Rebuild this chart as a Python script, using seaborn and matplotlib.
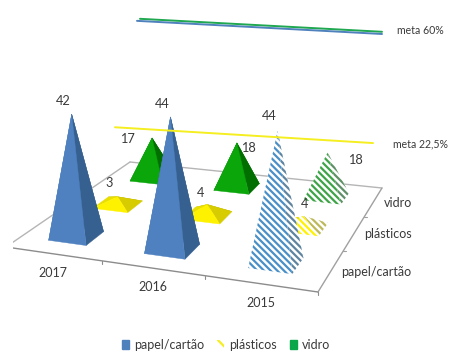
import numpy as np
import pandas as pd
import seaborn as sns
import matplotlib
matplotlib.use("Agg")
import matplotlib.pyplot as plt
from matplotlib.patches import Polygon, Patch

# Recycling rates by material and year, with the target lines
years = ["2017", "2016", "2015"]
materials = ["papel/cartão", "plásticos", "vidro"]
papel = [42, 44, 44]
plasticos = [3, 4, 4]
vidro = [17, 18, 18]
meta_vidro_papel = 60
meta_plasticos = 22.5

sns.set_theme(style="white", font="Lato")
plt.rcParams["hatch.linewidth"] = 1.6
TEXT = "#3a3a3a"
STRIPES = "\\" * 5

# Face colours: front, right, left, back
palette = {
    "papel/cartão": ["#4f81c0", "#35608f", "#3f6fa8", "#35608f"],
    "plásticos": ["#fff200", "#d6cc00", "#e8de00", "#b8ae00"],
    "vidro": ["#0aa60a", "#006f00", "#068a06", "#006f00"],
}
hatched = {
    "papel/cartão": ["#4a90c8", "#5f84a0", "#4a90c8", "#5f84a0"],
    "plásticos": ["#fff200", "#bdb95a", "#e8de00", "#bdb95a"],
    "vidro": ["#3fa448", "#5f9068", "#3fa448", "#5f9068"],
}

fig = plt.figure(figsize=(4.5, 3.53), dpi=100)
# The axes use a pixel-like system; the floor is cut at its left end
ax = fig.add_axes([13 / 450, 0, 1 - 13 / 450, 1])
ax.set_xlim(13, 450)
ax.set_ylim(353, 0)
ax.axis("off")

# Homography from floor coordinates (year slot, material slot) to the view
src = [(0, 0), (3, 0), (3, 3), (0, 3)]
dst = [(6, 247), (318, 292), (382, 188), (130, 162)]
A, b = [], []
for (u, v), (x, y) in zip(src, dst):
    A.append([u, v, 1, 0, 0, 0, -u * x, -v * x])
    A.append([0, 0, 0, u, v, 1, -u * y, -v * y])
    b += [x, y]
H = np.append(np.linalg.solve(np.array(A, float), np.array(b, float)), 1).reshape(3, 3)


def floor(u, v):
    p = H @ np.array([u, v, 1.0])
    return p[:2] / p[2]


def unit_height(u, v):
    # Vertical pixels per percentage point shrink towards the back and far left
    return 3.0 - 0.275 * (v - 0.5) - 0.2 * max(0.0, 1.0 - u)


# Floor outline and ticks
for a, c, col in [((0, 0), (0, 3), "#b5b5b5"), ((0, 3), (3, 3), "#b5b5b5"),
                  ((3, 3), (3, 0), "#a0a0a0"), ((0, 0), (3, 0), "#8c8c8c")]:
    pa, pc = floor(*a), floor(*c)
    ax.plot([pa[0], pc[0]], [pa[1], pc[1]], color=col, lw=1.0, zorder=1)
for t in [1, 2, 3]:
    p = floor(t, 0)
    ax.plot([p[0], p[0]], [p[1], p[1] + 3], color="#8c8c8c", lw=0.8, zorder=1)
for t in [1, 2]:
    p = floor(3, t)
    ax.plot([p[0], p[0] + 3], [p[1], p[1]], color="#a0a0a0", lw=0.8, zorder=1)

HALF = 0.2


def pyramid(u, v, value, colors, hatch=None):
    fl, fr = floor(u - HALF, v - HALF), floor(u + HALF, v - HALF)
    br, bl = floor(u + HALF, v + HALF), floor(u - HALF, v + HALF)
    c = floor(u, v)
    # Tall shapes lean slightly away from the centre of the view
    lean = (c[0] - 230) * 0.032 * value / 44
    apex = c + np.array([lean, -value * unit_height(u, v)])
    faces = [((bl, br), 3), ((fl, bl), 2), ((fr, br), 1), ((fl, fr), 0)]
    for (a, d), k in faces:
        if hatch:
            ax.add_patch(Polygon([a, d, apex], closed=True, facecolor="white",
                                 edgecolor=colors[k], hatch=hatch, lw=0, zorder=3))
        else:
            ax.add_patch(Polygon([a, d, apex], closed=True, facecolor=colors[k],
                                 edgecolor=colors[k], lw=0.3, zorder=3))
    return apex


# Value-label offsets from each apex: material -> year
label_offset = {
    "papel/cartão": [(-8, -13), (-8, -13), (-8, -15)],
    "plásticos": [(-8, -14), (-7, -12), (1, -12)],
    "vidro": [(-25, 1), (11, 5), (28, 7)],
}

# Painter's order: back row first, left to right
for j, (mat, vals) in reversed(list(enumerate(zip(materials, [papel, plasticos, vidro])))):
    for i, val in enumerate(vals):
        is_hatched = years[i] == "2015"
        apex = pyramid(i + 0.5, j + 0.5, val,
                       hatched[mat] if is_hatched else palette[mat],
                       hatch=STRIPES if is_hatched else None)
        dx, dy = label_offset[mat][i]
        ax.text(apex[0] + dx, apex[1] + dy, str(val), ha="center", va="center",
                fontsize=9.2, color=TEXT, zorder=6)

# Axis labels along the floor edges
for i, y in enumerate(years):
    p = floor(i + 0.5, 0)
    ax.text(p[0], p[1] + 19, y, ha="center", va="center", fontsize=9, color=TEXT)
for j, m in enumerate(materials):
    p = floor(3, j + 0.5)
    ax.text(p[0] + 10, p[1] + 1, m, ha="left", va="center", fontsize=9, color=TEXT)


# Target lines float on a plane tilted like the floor
def meta_y(x, value):
    base = 192.4 + (x - 115) * 17 / 258
    return base - value * (2.9 + 0.05 * (x - 137) / 245)


meta = pd.DataFrame(
    [dict(serie=s, x=x, y=meta_y(x, val) + off)
     for s, x0, x1, val, off in [
         ("vidro", 140, 382, meta_vidro_papel, -1.2),
         ("papel/cartão", 137, 382, meta_vidro_papel, 1.0),
         ("plásticos", 115, 373, meta_plasticos, 0.0)]
     for x in (x0, x1)]
)
sns.lineplot(data=meta, x="x", y="y", hue="serie", ax=ax, legend=False, zorder=5,
             palette={"papel/cartão": "#4f81bd", "vidro": "#1fa84f", "plásticos": "#f5ee20"},
             linewidth=1.4, estimator=None)
ax.set_xlim(13, 450)
ax.set_ylim(353, 0)
ax.axis("off")
ax.text(397, 31, "meta 60%", ha="left", va="center", fontsize=7.6, color=TEXT)
ax.text(393, 144, "meta 22,5%", ha="left", va="center", fontsize=7.6, color=TEXT)

handles = [
    Patch(facecolor="#4f81bd", edgecolor="#4f81bd", label="papel/cartão"),
    Patch(facecolor="white", edgecolor="#f5ee20", hatch="\\\\\\", lw=0, label="plásticos"),
    Patch(facecolor="#0aa64a", edgecolor="#0aa64a", label="vidro"),
]
fig.legend(handles=handles, ncol=3, loc="center", bbox_to_anchor=(226 / 450, 1 - 345 / 353),
           frameon=False, fontsize=9, labelcolor=TEXT, handlelength=0.55, handleheight=0.7,
           handletextpad=0.4, columnspacing=1.05, borderpad=0)

fig.savefig("out.png", dpi=100, facecolor="white")
